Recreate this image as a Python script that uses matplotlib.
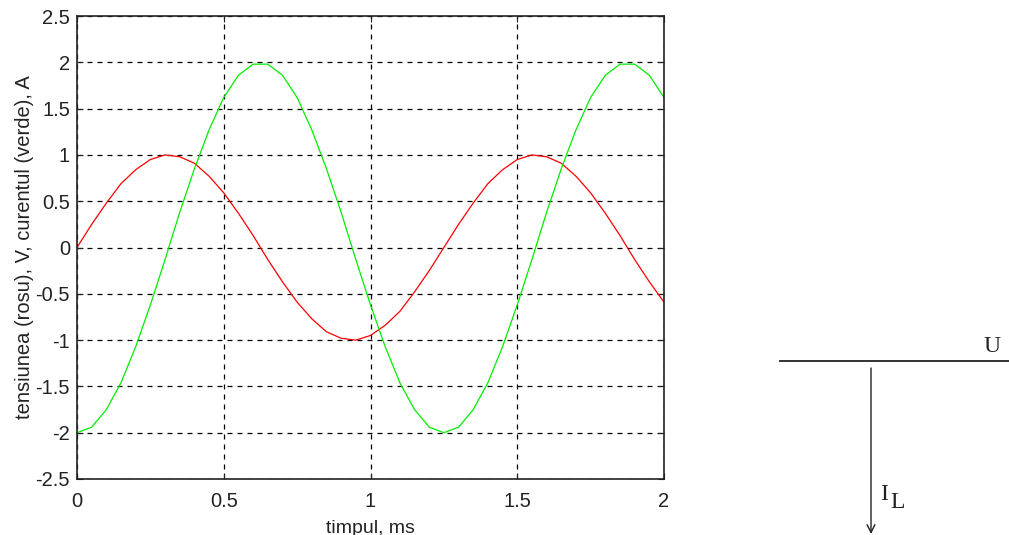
import matplotlib
matplotlib.use("Agg")
import matplotlib.pyplot as plt

# time in ms
t = [0.00, 0.05, 0.10, 0.15, 0.20, 0.25, 0.30, 0.35, 0.40, 0.45,
     0.50, 0.55, 0.60, 0.65, 0.70, 0.75, 0.80, 0.85, 0.90, 0.95,
     1.00, 1.05, 1.10, 1.15, 1.20, 1.25, 1.30, 1.35, 1.40, 1.45,
     1.50, 1.55, 1.60, 1.65, 1.70, 1.75, 1.80, 1.85, 1.90, 1.95, 2.00]
# voltage (red)
u = [0.00, 0.25, 0.48, 0.69, 0.84, 0.95, 1.00, 0.98, 0.91, 0.77,
     0.59, 0.37, 0.13, -0.13, -0.37, -0.59, -0.77, -0.91, -0.98, -1.00,
     -0.95, -0.84, -0.69, -0.48, -0.25, 0.00, 0.25, 0.48, 0.69, 0.84,
     0.95, 1.00, 0.98, 0.91, 0.77, 0.59, 0.37, 0.13, -0.13, -0.37, -0.59]
# current (green)
i = [-2.00, -1.94, -1.75, -1.46, -1.07, -0.62, -0.13, 0.38, 0.85, 1.27,
     1.62, 1.86, 1.98, 1.98, 1.86, 1.62, 1.27, 0.85, 0.38, -0.13,
     -0.62, -1.07, -1.46, -1.75, -1.94, -2.00, -1.94, -1.75, -1.46, -1.07,
     -0.62, -0.13, 0.38, 0.85, 1.27, 1.62, 1.86, 1.98, 1.98, 1.86, 1.62]

xticks = [0, 0.5, 1, 1.5, 2]
xticklabels = ["0", "0.5", "1", "1.5", "2"]
yticks = [-2.5, -2, -1.5, -1, -0.5, 0, 0.5, 1, 1.5, 2, 2.5]
yticklabels = ["-2.5", "-2", "-1.5", "-1", "-0.5", "0", "0.5", "1", "1.5", "2", "2.5"]

plt.rcParams['font.family'] = ['Liberation Sans', 'DejaVu Sans']

fig = plt.figure(figsize=(10.09, 5.35), dpi=100)
W, H = 1009, 535
ax = fig.add_axes([77 / W, 1 - 479 / H, (664 - 77) / W, (479 - 16) / H])

ax.plot(t, u, color="#ff0000", lw=0.9)
ax.plot(t, i, color="#00ee00", lw=0.9)
ax.set_xlim(0, 2)
ax.set_ylim(-2.5, 2.5)
ax.set_xticks(xticks)
ax.set_xticklabels(xticklabels)
ax.set_yticks(yticks)
ax.set_yticklabels(yticklabels)
ax.tick_params(direction="in", length=4, labelsize=14.5, colors="#222222",
               top=True, right=True)
ax.tick_params(axis="x", pad=9.5)
ax.tick_params(axis="y", pad=5)
ax.grid(True, color="black", linestyle=(0, (4, 4)), linewidth=0.9)
for s in ax.spines.values():
    s.set_linewidth(1.2)
    s.set_color("#222222")
ax.set_xlabel("timpul, ms", fontsize=14, labelpad=6, color="#222222")
ax.set_ylabel("tensiunea (rosu), V, curentul (verde), A", fontsize=14.5,
              labelpad=1, color="#222222")

# phasor diagram
ov = fig.add_axes([0, 0, 1, 1])
ov.set_xlim(0, W)
ov.set_ylim(H, 0)
ov.axis("off")
ov.plot([780, 1009], [361, 361], color="#222222", lw=1.3)
ov.annotate("", xy=(871, 534), xytext=(871, 368),
            arrowprops=dict(arrowstyle="->", color="#222222", lw=1.0,
                            mutation_scale=14, shrinkA=0, shrinkB=0))
ov.text(992, 352, "U", fontsize=17, family="Liberation Serif",
        ha="center", va="baseline", color="#222222")
ov.text(880, 500, "I", fontsize=17, family="Liberation Serif",
        ha="left", va="baseline", color="#222222")
ov.text(890, 508, "L", fontsize=17, family="Liberation Serif",
        ha="left", va="baseline", color="#222222")

fig.savefig("out.png", dpi=100)
